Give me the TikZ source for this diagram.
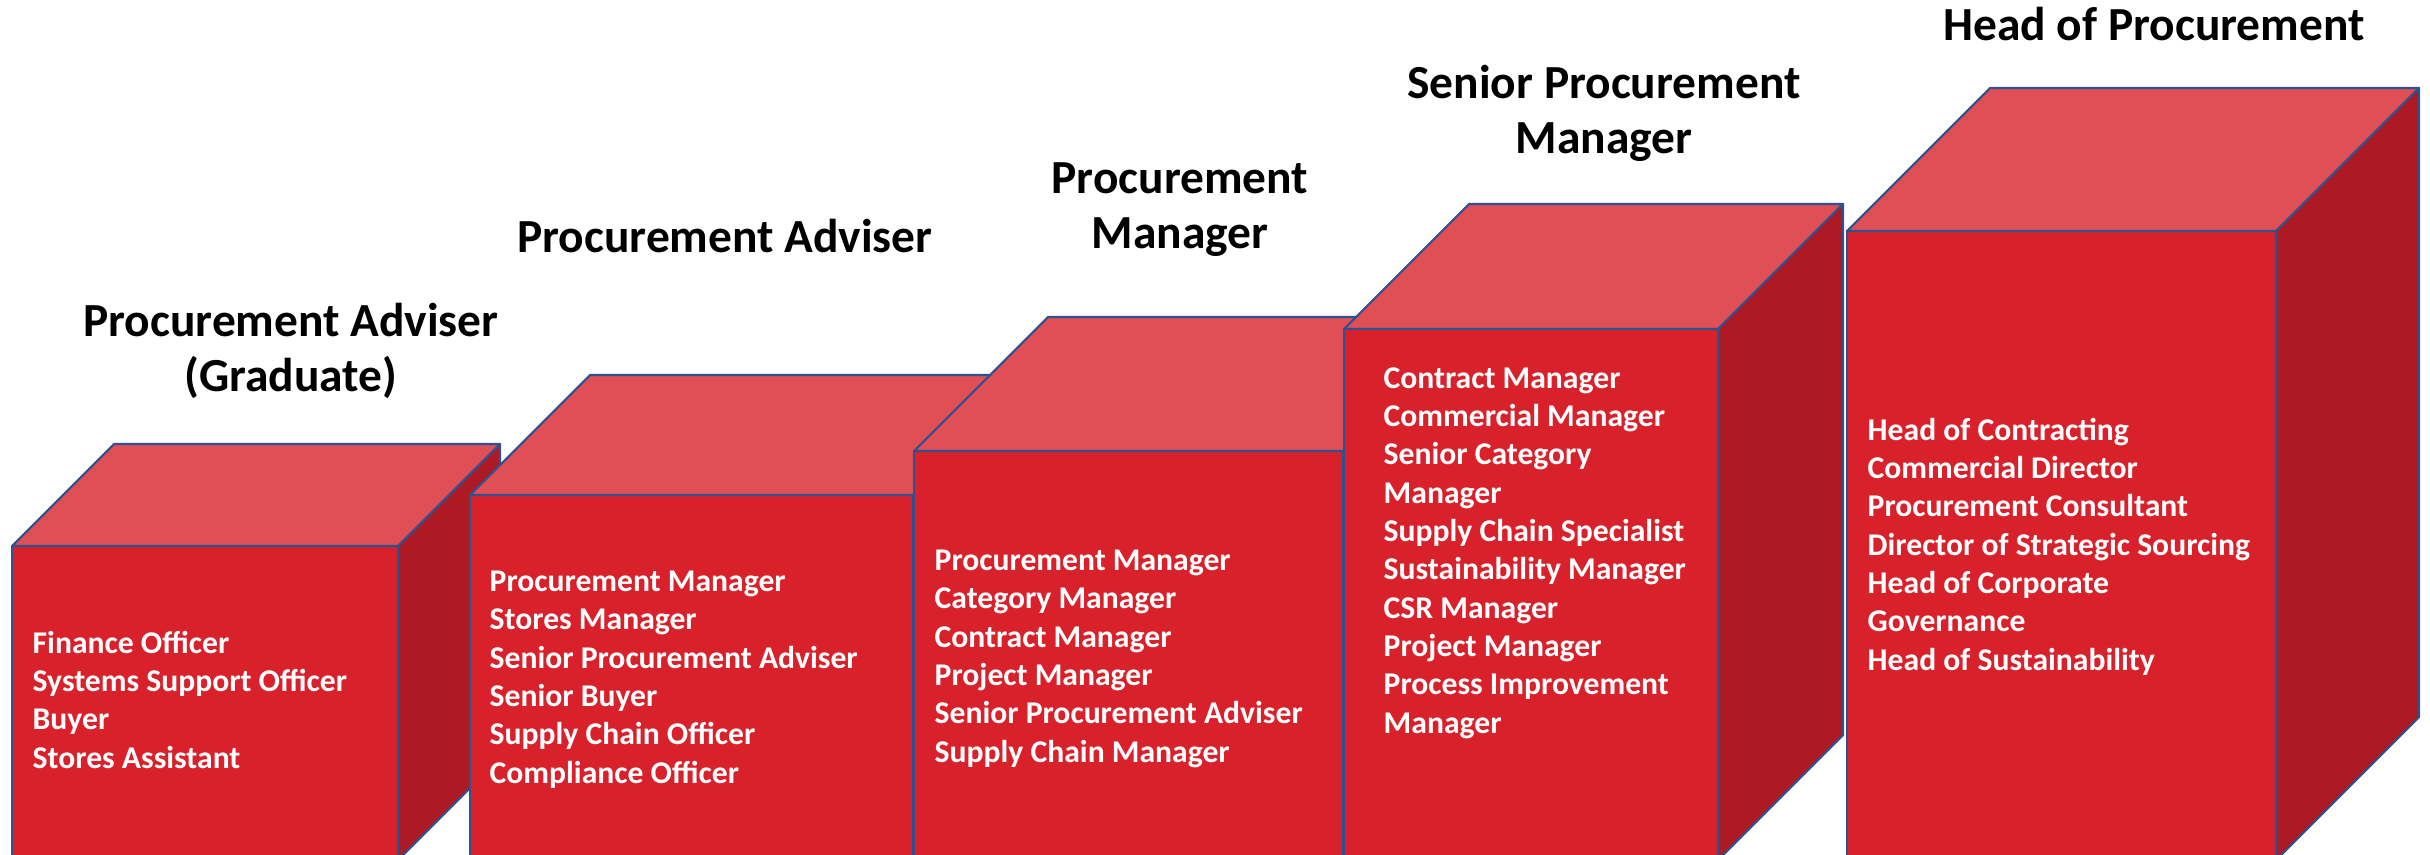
\documentclass[tikz,border=0pt]{standalone}
\usepackage{fontspec}
\setmainfont{Carlito}
\usetikzlibrary{positioning}

\definecolor{cubefront}{HTML}{D9212C}
\definecolor{cubetop}{HTML}{E04E56}
\definecolor{cubeside}{HTML}{AD1A24}
\definecolor{cubeline}{HTML}{2F528F}

\tikzset{
  face/.style={draw=cubeline, line width=0.6pt, line join=round},
  heading/.style={font=\fontsize{13.5}{15.5}\selectfont\bfseries, align=center, anchor=base, inner sep=0pt},
  roles/.style={font=\fontsize{9}{10.9}\selectfont\bfseries, text=white, align=left, anchor=base west, inner sep=0pt}
}

\begin{document}
\begin{tikzpicture}[x=0.01cm, y=-0.01cm]
  \useasboundingbox (0,0) rectangle (2430,854);
  \clip (0,0) rectangle (2430,854);

  % cubes: front left, front right, front top, depth
  \foreach \xl/\xr/\yt/\dd in {12/398/546/102, 470/913/495/120, 914/1343/451/134,
                               1344/1718/329/125, 1847/2276/231/143}{
    \draw[face, fill=cubefront] (\xl,\yt) rectangle (\xr,860);
    \draw[face, fill=cubetop] (\xl,\yt) -- ({\xl+\dd},{\yt-\dd}) -- ({\xr+\dd},{\yt-\dd}) -- (\xr,\yt) -- cycle;
    \draw[face, fill=cubeside] (\xr,\yt) -- ({\xr+\dd},{\yt-\dd}) -- ({\xr+\dd},{860-\dd}) -- (\xr,860) -- cycle;
  }

  % level titles (base = last line)
  \node[heading] (title1) at (291,391) {Procurement Adviser\\(Graduate)};
  \node[heading] (title2) at (725,252) {Procurement Adviser};
  \node[heading] (title3) at (1180,248) {Procurement\\Manager};
  \node[heading] (title4) at (1604,153) {Senior Procurement\\Manager};
  \node[heading] (title5) at (2154,40) {Head of Procurement};

  % job roles (base = last line)
  \node[roles] (roles1) at (32,768) {Finance Officer\\Systems Support Officer\\Buyer\\Stores Assistant};
  \node[roles] (roles2) at (489,783) {Procurement Manager\\Stores Manager\\Senior Procurement Adviser\\Senior Buyer\\Supply Chain Officer\\Compliance Officer};
  \node[roles] (roles3) at (934,762) {Procurement Manager\\Category Manager\\Contract Manager\\Project Manager\\Senior Procurement Adviser\\Supply Chain Manager};
  \node[roles] (roles4) at (1383,733) {Contract Manager\\Commercial Manager\\Senior Category\\Manager\\Supply Chain Specialist\\Sustainability Manager\\CSR Manager\\Project Manager\\Process Improvement\\Manager};
  \node[roles] (roles5) at (1867,670) {Head of Contracting\\Commercial Director\\Procurement Consultant\\Director of Strategic Sourcing\\Head of Corporate\\Governance\\Head of Sustainability};
\end{tikzpicture}
\end{document}
